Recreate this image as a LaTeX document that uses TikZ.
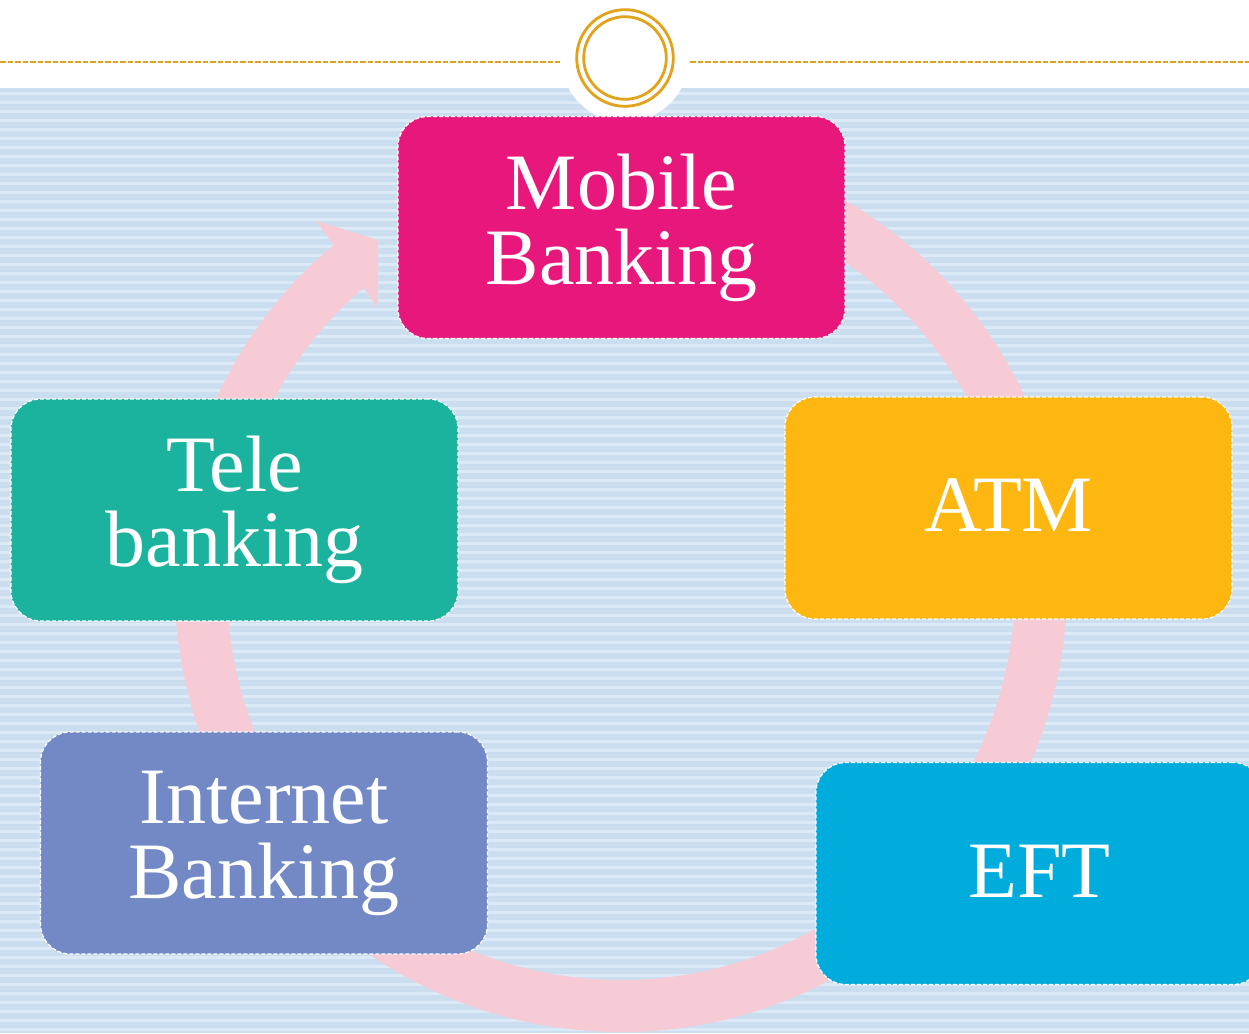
\documentclass[tikz,border=0pt]{standalone}
\usepackage{fontspec}
\setmainfont{Liberation Serif}
\usetikzlibrary{calc}
\definecolor{bgblue}{RGB}{203,222,239}
\definecolor{bgstripe}{RGB}{220,233,246}
\definecolor{ringpink}{RGB}{247,203,214}
\definecolor{gold}{RGB}{226,162,26}
\definecolor{cMobile}{RGB}{232,23,123}
\definecolor{cATM}{RGB}{253,183,16}
\definecolor{cTele}{RGB}{27,179,158}
\definecolor{cNet}{RGB}{114,137,198}
\definecolor{cEFT}{RGB}{0,172,220}
\begin{document}
\begin{tikzpicture}[x=1pt,y=1pt,
  card/.style={draw=white, line width=1.2pt, dash pattern=on 4pt off 2pt,
    rounded corners=30pt, minimum width=447pt, minimum height=222pt,
    inner sep=0pt, align=center, text=white,
    font=\fontsize{80}{75}\selectfont},
  goldline/.style={draw=gold, line width=1.3pt, dash pattern=on 5.5pt off 2pt},
  goldring/.style={draw=gold, line width=2.8pt}]
\useasboundingbox (0,0) rectangle (1249,1033);
\clip (0,0) rectangle (1249,1033);
\fill[white] (0,0) rectangle (1249,1033);
% striped background
\fill[bgblue] (0,0) rectangle (1249,945);
\foreach \k in {0,...,104} {
  \fill[bgstripe] (0,\k*9+2) rectangle (1249,\k*9+5);
}
% white notch and header
\fill[white] (625,975) circle[radius=64];
\draw[goldline] (0,971) -- (560,971);
\draw[goldline] (690,971) -- (1249,971);
\coordinate (rc) at (625,975);
\draw[goldring] (rc) circle[radius=48.3];
\draw[goldring] (rc) circle[radius=41.3];
% circular arrow
\coordinate (c) at (621,447);
\coordinate (barbout) at (316,812.3);
\coordinate (tiptop) at (378,793);
\coordinate (tipbot) at (378,725);
\coordinate (barbin) at (362.7,746.3);
\fill[ringpink] ($(c)+(80:446pt)$) arc[start angle=80, end angle=-229.9, radius=446pt]
  -- (barbout) -- (tiptop) -- (tipbot) -- (barbin)
  -- ($(c)+(130.8:394pt)$) arc[start angle=-229.2, end angle=80, radius=394pt] -- cycle;
% cards
\node[card, fill=cMobile] (mobile) at (621.5,805.5) {Mobile\\Banking};
\node[card, fill=cATM] (atm) at (1008.5,525) {\raisebox{6pt}{ATM}};
\node[card, fill=cTele] (tele) at (234.5,523) {Tele\\banking};
\node[card, fill=cNet] (net) at (264,190) {Internet\\Banking};
\node[card, fill=cEFT] (eft) at (1039.5,159.5) {\raisebox{5pt}{EFT}};
\end{tikzpicture}
\end{document}
